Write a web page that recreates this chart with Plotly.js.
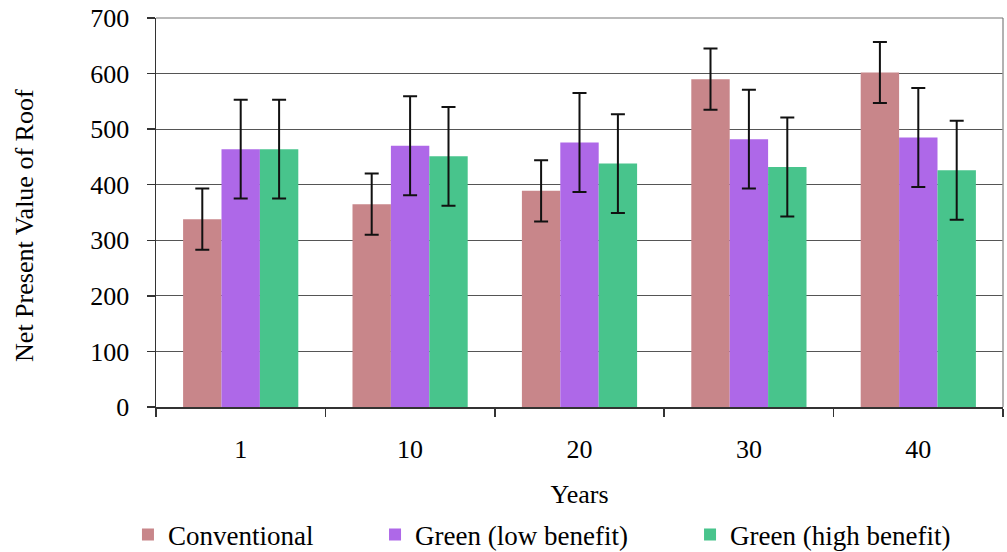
<!DOCTYPE html>
<html>
<head>
<meta charset="utf-8">
<script src="https://cdn.plot.ly/plotly-3.0.1.min.js"></script>
<style>html,body{margin:0;padding:0;background:#fff;}#chart{width:1007px;height:552px;}</style>
</head>
<body>
<div id="chart"></div>
<script>
var years = ["1", "10", "20", "30", "40"];
var seriesNames = ["Conventional", "Green (low benefit)", "Green (high benefit)"];
var conventional = [338, 365, 389, 590, 602];
var conventionalErr = [55, 55, 55, 55, 55];
var greenLow = [464, 470, 476, 482, 485];
var greenLowErr = [89, 89, 89, 89, 89];
var greenHigh = [464, 451, 438, 432, 426];
var greenHighErr = [89, 89, 89, 89, 89];
var colors = ["#C8868A", "#AE68E8", "#48C48C"];
var yTitle = "Net Present Value of Roof";
var xTitle = "Years";

var FONT = "Liberation Serif, Times New Roman, serif";

function errBar(arr) {
  return {type: "data", array: arr, visible: true, color: "#111", thickness: 2, width: 7};
}

var traces = [
  {type: "bar", name: seriesNames[0], x: years, y: conventional, error_y: errBar(conventionalErr),
   marker: {color: colors[0]}, legend: "legend"},
  {type: "bar", name: seriesNames[1], x: years, y: greenLow, error_y: errBar(greenLowErr),
   marker: {color: colors[1]}, legend: "legend2"},
  {type: "bar", name: seriesNames[2], x: years, y: greenHigh, error_y: errBar(greenHighErr),
   marker: {color: colors[2]}, legend: "legend3"}
];

function leg(x) {
  return {orientation: "h", x: x, xanchor: "left", y: -0.329, yanchor: "middle",
          font: {family: FONT, size: 27, color: "#000"}, bgcolor: "rgba(0,0,0,0)"};
}

var layout = {
  width: 1007, height: 552,
  margin: {l: 156, r: 4, t: 18, b: 145, autoexpand: false},
  paper_bgcolor: "#fff", plot_bgcolor: "#fff",
  font: {family: FONT, size: 26, color: "#000"},
  barmode: "group", bargap: 0.32, bargroupgap: 0,
  showlegend: true,
  legend: leg(-0.0331),
  legend2: leg(0.2586),
  legend3: leg(0.6305),
  xaxis: {
    type: "category",
    title: {text: xTitle, font: {family: FONT, size: 26, color: "#000"}, standoff: 22},
    showline: true, linecolor: "#333", linewidth: 1.5,
    ticks: "outside", tickson: "boundaries", ticklen: 8, tickcolor: "#333", tickwidth: 1.5,
    ticklabelstandoff: 18,
    showgrid: false, zeroline: false,
    tickfont: {family: FONT, size: 26, color: "#000"}
  },
  yaxis: {
    range: [0, 700], dtick: 100, tick0: 0,
    showline: true, linecolor: "#333", linewidth: 1.5,
    ticks: "outside", ticklen: 8, tickcolor: "#333", tickwidth: 1.5,
    ticklabelstandoff: 12,
    showgrid: true, gridcolor: "#555", gridwidth: 1.2,
    zeroline: false,
    tickfont: {family: FONT, size: 26, color: "#000"}
  },
  annotations: [
    {text: yTitle, textangle: -90, xref: "paper", yref: "paper", x: -0.1547, y: 0.468,
     xanchor: "center", yanchor: "middle", showarrow: false,
     font: {family: FONT, size: 26, color: "#000"}}
  ],
  shapes: [
    {type: "line", xref: "paper", yref: "paper", x0: 1, x1: 1, y0: 0, y1: 1, line: {color: "#999", width: 1.5}},
    {type: "line", xref: "paper", yref: "paper", x0: 0, x1: 1, y0: 1, y1: 1, line: {color: "#777", width: 1.2}}
  ]
};

Plotly.newPlot("chart", traces, layout, {displayModeBar: false, staticPlot: true});
</script>
</body>
</html>
